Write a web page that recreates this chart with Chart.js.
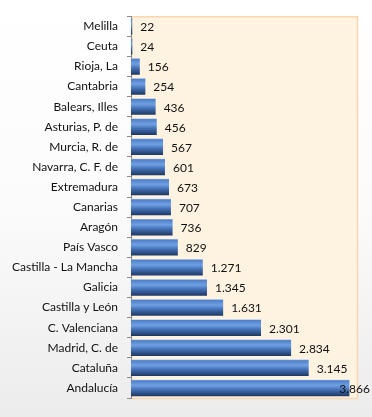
<!DOCTYPE html>
<html>
<head>
<meta charset="utf-8">
<script src="https://cdn.jsdelivr.net/npm/chart.js@4/dist/chart.umd.min.js"></script>
<style>
html,body{margin:0;padding:0;}
body{width:372px;height:417px;background:linear-gradient(#ffffff 0%,#fbfbfb 50%,#ececec 100%);}
#wrap{position:relative;width:372px;height:417px;}
</style>
</head>
<body>
<div id="wrap"><canvas id="c" width="372" height="417"></canvas></div>
<script>
const categories = ["Melilla","Ceuta","Rioja, La","Cantabria","Balears, Illes","Asturias, P. de","Murcia, R. de","Navarra, C. F. de","Extremadura","Canarias","Aragón","País Vasco","Castilla - La Mancha","Galicia","Castilla y León","C. Valenciana","Madrid, C. de","Cataluña","Andalucía"];
const values = [22,24,156,254,436,456,567,601,673,707,736,829,1271,1345,1631,2301,2834,3145,3866];
const axisMax = 4000;

function fmt(v){ return String(v).replace(/\B(?=(\d{3})+(?!\d))/g, "."); }

const plotBg = {
  id:'plotBg',
  beforeDraw(chart){
    const {ctx, chartArea:a} = chart;
    ctx.save();
    ctx.fillStyle = '#fef2e1';
    ctx.fillRect(a.left, a.top, a.right-a.left, a.bottom-a.top);
    ctx.strokeStyle = '#f8d6b0';
    ctx.lineWidth = 1.5;
    ctx.strokeRect(a.left+0.5, a.top+0.5, a.right-a.left, a.bottom-a.top);
    ctx.restore();
  }
};

const valueLabels = {
  id:'valueLabels',
  afterDatasetsDraw(chart){
    const {ctx} = chart;
    const meta = chart.getDatasetMeta(0);
    ctx.save();
    ctx.font = '12px Lato, "Open Sans", sans-serif';
    ctx.fillStyle = '#111';
    ctx.textBaseline = 'middle';
    meta.data.forEach((bar, i) => {
      const t = fmt(values[i]);
      const w = ctx.measureText(t).width;
      let x = bar.x + 8;
      x = Math.min(x, chart.width - w - 2);
      ctx.fillText(t, x, bar.y + 1);
    });
    ctx.restore();
  }
};

new Chart(document.getElementById('c'), {
  type:'bar',
  data:{
    labels: categories,
    datasets:[{
      data: values,
      backgroundColor(ctx){
        const chart = ctx.chart;
        const ys = chart.scales.y;
        if(!ys || !chart.chartArea || ctx.dataIndex === undefined) return '#4a78bd';
        const yc = ys.getPixelForValue(ctx.dataIndex);
        const h = 17;
        const g = chart.ctx.createLinearGradient(0, yc - h/2, 0, yc + h/2);
        g.addColorStop(0, '#b3cbee');
        g.addColorStop(0.08, '#5080c8');
        g.addColorStop(0.35, '#70a0e3');
        g.addColorStop(0.6, '#4471b6');
        g.addColorStop(1, '#1c345e');
        return g;
      },
      borderWidth:0,
      barPercentage:0.82,
      categoryPercentage:1
    }]
  },
  options:{
    responsive:false,
    animation:false,
    indexAxis:'y',
    layout:{padding:{left:0,right:15,top:11,bottom:19}},
    plugins:{legend:{display:false},tooltip:{enabled:false}},
    scales:{
      x:{display:false,min:0,max:axisMax},
      y:{
        afterFit(s){ s.width = 131; },
        border:{display:true,color:'#8c8c8c',width:1},
        grid:{display:true,drawOnChartArea:false,drawTicks:true,tickLength:4,color:'#8c8c8c',offset:true},
        ticks:{color:'#111',padding:9,font:{family:'Lato, "Open Sans", sans-serif',size:12}}
      }
    }
  },
  plugins:[plotBg, valueLabels]
});
</script>
</body>
</html>
